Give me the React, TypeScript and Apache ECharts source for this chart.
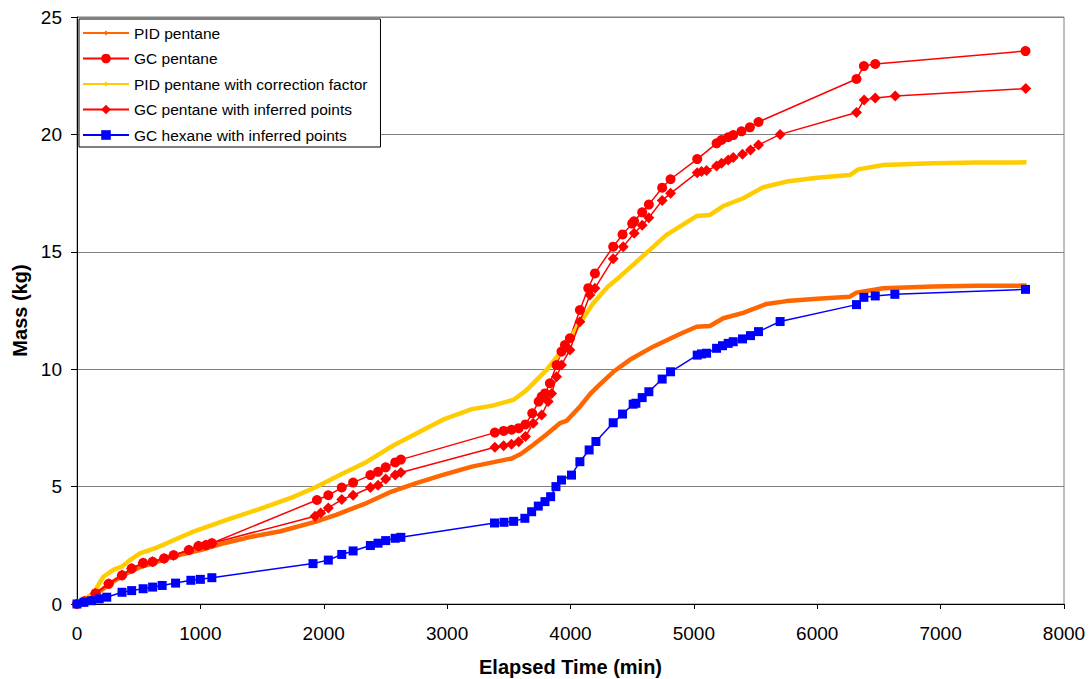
import React, { useEffect, useRef } from "react";
import * as echarts from "echarts";

const xTicks = { min: 0, max: 8000, interval: 1000 };
const yTicks = { min: 0, max: 25, interval: 5 };

const seriesNames = [
  "PID pentane",
  "GC pentane",
  "PID pentane with correction factor",
  "GC pentane with inferred points",
  "GC hexane with inferred points",
];

const pidPentane: [number, number][] = [
  [0, 0], [100, 0.25], [200, 0.6], [300, 0.98], [400, 1.3], [500, 1.55], [650, 1.8], [800, 2.05],
  [1000, 2.3], [1200, 2.6], [1400, 2.85], [1650, 3.1], [1929, 3.5], [2100, 3.8], [2347, 4.3],
  [2533, 4.75], [2750, 5.15], [2966, 5.5], [3200, 5.85], [3368, 6.03], [3523, 6.2], [3600, 6.4],
  [3678, 6.7], [3800, 7.2], [3914, 7.7], [3968, 7.8], [4076, 8.4], [4160, 8.95], [4238, 9.35],
  [4350, 9.9], [4481, 10.4], [4670, 10.96], [4887, 11.5], [5022, 11.81], [5130, 11.84],
  [5238, 12.17], [5400, 12.4], [5589, 12.78], [5751, 12.9], [6000, 13.0], [6264, 13.09],
  [6318, 13.26], [6534, 13.45], [6940, 13.52], [7300, 13.55], [7696, 13.56],
];

const gcPentane: [number, number][] = [
  [0, 0], [60, 0.12], [150, 0.45], [257, 0.86], [365, 1.22], [443, 1.51], [536, 1.75], [613, 1.8],
  [706, 1.94], [783, 2.08], [907, 2.3], [985, 2.47], [1046, 2.51], [1093, 2.59],
  [1945, 4.43], [2037, 4.63], [2146, 4.96], [2238, 5.17], [2378, 5.49], [2440, 5.63], [2502, 5.82],
  [2579, 6.03], [2625, 6.15],
  [3387, 7.3], [3458, 7.37], [3522, 7.42], [3580, 7.49], [3635, 7.65], [3690, 8.12], [3742, 8.62],
  [3766, 8.83], [3793, 8.97], [3833, 9.4], [3887, 10.18], [3927, 10.75], [3955, 11.03],
  [3995, 11.32], [4076, 12.52], [4144, 13.45], [4198, 14.08], [4346, 15.22], [4422, 15.74],
  [4500, 16.2], [4515, 16.3], [4581, 16.68], [4635, 17.01], [4743, 17.73], [4811, 18.09],
  [5027, 18.95], [5184, 19.62], [5224, 19.76], [5278, 19.88], [5319, 19.97], [5386, 20.13],
  [5454, 20.3], [5524, 20.53], [6318, 22.36], [6378, 22.91], [6470, 23.0], [7688, 23.55],
];

const pidCorrected: [number, number][] = [
  [0, 0], [132, 0.45], [213, 1.16], [294, 1.45], [362, 1.59], [430, 1.87], [510, 2.16], [646, 2.4],
  [754, 2.65], [943, 3.08], [1213, 3.58], [1483, 4.05], [1750, 4.55], [1929, 4.96], [2150, 5.55],
  [2347, 6.05], [2563, 6.75], [2766, 7.3], [2966, 7.85], [3200, 8.3], [3368, 8.45], [3539, 8.7],
  [3644, 9.11], [3806, 9.97], [3914, 10.68], [4022, 11.53], [4184, 12.81], [4300, 13.5],
  [4400, 13.94], [4643, 15.08], [4778, 15.72], [5022, 16.52], [5130, 16.57], [5238, 16.95],
  [5400, 17.28], [5562, 17.75], [5751, 17.99], [6000, 18.15], [6264, 18.27], [6332, 18.51],
  [6534, 18.7], [6940, 18.77], [7300, 18.8], [7696, 18.81],
];

const gcPentaneInferred: [number, number][] = [
  [0, 0], [60, 0.12], [150, 0.45], [257, 0.86], [365, 1.22], [443, 1.51], [536, 1.75], [613, 1.8],
  [706, 1.94], [783, 2.08], [907, 2.3], [985, 2.47], [1046, 2.51], [1093, 2.59],
  [1929, 3.74], [1975, 3.88], [2037, 4.09], [2146, 4.45], [2238, 4.63], [2378, 4.96], [2440, 5.06],
  [2502, 5.32], [2579, 5.49], [2625, 5.6],
  [3387, 6.68], [3458, 6.74], [3522, 6.8], [3580, 6.91], [3635, 7.13], [3698, 7.7], [3766, 8.05],
  [3819, 8.62], [3847, 8.97], [3887, 9.68], [3927, 10.18], [3995, 10.82], [4076, 12.02],
  [4157, 13.16], [4198, 13.45], [4346, 14.7], [4427, 15.22], [4516, 15.79], [4581, 16.13],
  [4635, 16.45], [4743, 17.19], [4811, 17.49], [5027, 18.37], [5062, 18.42], [5103, 18.46],
  [5184, 18.65], [5224, 18.77], [5278, 18.91], [5319, 19.02], [5394, 19.15], [5459, 19.34],
  [5524, 19.55], [5699, 20.0], [6318, 20.93], [6380, 21.47], [6470, 21.55], [6632, 21.64],
  [7690, 21.95],
];

const gcHexaneInferred: [number, number][] = [
  [0, 0], [56, 0.07], [118, 0.14], [180, 0.22], [241, 0.29], [365, 0.5], [443, 0.57], [536, 0.65],
  [613, 0.72], [690, 0.79], [799, 0.89], [923, 1.01], [1000, 1.05], [1093, 1.12],
  [1913, 1.72], [2037, 1.87], [2146, 2.11], [2238, 2.26], [2378, 2.49], [2440, 2.59], [2502, 2.7],
  [2579, 2.8], [2625, 2.84],
  [3384, 3.45], [3461, 3.48], [3539, 3.52], [3630, 3.65], [3685, 3.93], [3739, 4.17], [3793, 4.36],
  [3839, 4.57], [3882, 5.0], [3927, 5.28], [4008, 5.49], [4076, 6.06], [4151, 6.56], [4206, 6.92],
  [4346, 7.72], [4422, 8.09], [4508, 8.51], [4530, 8.55], [4581, 8.79], [4635, 9.04], [4743, 9.58],
  [4811, 9.89], [5027, 10.6], [5062, 10.65], [5103, 10.68], [5184, 10.89], [5232, 11.0],
  [5278, 11.1], [5319, 11.17], [5394, 11.29], [5459, 11.43], [5524, 11.6], [5699, 12.03],
  [6318, 12.75], [6378, 13.06], [6470, 13.12], [6629, 13.19], [7688, 13.4],
];

const FONT = "'Liberation Sans', Arial, sans-serif";

// legend icon: thin line with a tiny diamond (46 x 12 box)
const SMALL_MARK_ICON =
  "path://M0,0L0.01,0M46,12L45.99,12M0,5.1L46,5.1L46,6.9L0,6.9ZM23,3.6L25.4,6L23,8.4L20.6,6Z";

export default function App() {
  const ref = useRef<HTMLDivElement>(null);
  useEffect(() => {
    document.body.style.margin = "0";
    if (!ref.current) return;
    const chart = echarts.init(ref.current, undefined, { renderer: "svg" });
    const thinLegend = (color: string) => ({ lineStyle: { width: 2, color } });
    const smallIcon = (color: string) => ({
      icon: SMALL_MARK_ICON,
      itemStyle: { color, borderWidth: 0 },
    });
    chart.setOption({
      animation: false,
      backgroundColor: "#ffffff",
      textStyle: { fontFamily: FONT },
      grid: {
        left: 77,
        right: 28,
        top: 17,
        bottom: 75,
        outerBoundsMode: "none",
        containLabel: false,
        show: true,
        borderColor: "#808080",
        borderWidth: 1,
        backgroundColor: "transparent",
      },
      legend: {
        orient: "vertical",
        left: 79,
        top: 19,
        itemWidth: 46,
        itemHeight: 12,
        itemGap: 9.5,
        padding: [6, 13, 4, 3],
        backgroundColor: "#ffffff",
        borderColor: "#000000",
        borderWidth: 1,
        borderRadius: 0,
        textStyle: { fontSize: 15.5, color: "#000", fontFamily: FONT },
        data: [
          { name: seriesNames[0], ...smallIcon("#FF6600") },
          { name: seriesNames[1], ...thinLegend("#FF0000") },
          { name: seriesNames[2], ...smallIcon("#FFCC00") },
          { name: seriesNames[3], ...thinLegend("#FF0000") },
          { name: seriesNames[4], ...thinLegend("#0000FF") },
        ],
      },
      xAxis: {
        type: "value",
        min: xTicks.min,
        max: xTicks.max,
        interval: xTicks.interval,
        name: "Elapsed Time (min)",
        nameLocation: "middle",
        nameGap: 53,
        nameTextStyle: { fontSize: 20, fontWeight: "bold", color: "#000", fontFamily: FONT },
        axisLine: { show: true, lineStyle: { color: "#000", width: 1 } },
        axisTick: { show: true, length: 5, inside: false, lineStyle: { color: "#000" } },
        axisLabel: {
          fontSize: 19,
          color: "#000",
          margin: 20,
          fontFamily: FONT,
          formatter: (v: number) => String(v),
        },
        splitLine: { show: false },
      },
      yAxis: {
        type: "value",
        min: yTicks.min,
        max: yTicks.max,
        interval: yTicks.interval,
        name: "Mass (kg)",
        nameLocation: "middle",
        nameGap: 42,
        nameRotate: 90,
        nameTextStyle: { fontSize: 20, fontWeight: "bold", color: "#000", fontFamily: FONT },
        axisLine: { show: true, lineStyle: { color: "#000", width: 1 } },
        axisTick: { show: true, length: 6, inside: false, lineStyle: { color: "#000" } },
        axisLabel: { fontSize: 19, color: "#000", margin: 15, fontFamily: FONT },
        splitLine: { show: true, lineStyle: { color: "#808080", width: 1 } },
      },
      series: [
        {
          name: seriesNames[0],
          type: "line",
          data: pidPentane,
          symbol: "diamond",
          symbolSize: 5,
          showSymbol: false,
          itemStyle: { color: "#FF6600" },
          lineStyle: { color: "#FF6600", width: 4.5 },
        },
        {
          name: seriesNames[1],
          type: "line",
          data: gcPentane,
          symbol: "circle",
          symbolSize: 10,
          itemStyle: { color: "#FF0000" },
          lineStyle: { color: "#FF0000", width: 1.5 },
        },
        {
          name: seriesNames[2],
          type: "line",
          data: pidCorrected,
          symbol: "diamond",
          symbolSize: 5,
          showSymbol: false,
          itemStyle: { color: "#FFCC00" },
          lineStyle: { color: "#FFCC00", width: 4.5 },
        },
        {
          name: seriesNames[3],
          type: "line",
          data: gcPentaneInferred,
          symbol: "diamond",
          symbolSize: 11,
          itemStyle: { color: "#FF0000" },
          lineStyle: { color: "#FF0000", width: 1.5 },
        },
        {
          name: seriesNames[4],
          type: "line",
          data: gcHexaneInferred,
          symbol: "rect",
          symbolSize: 9,
          itemStyle: { color: "#0000FF" },
          lineStyle: { color: "#0000FF", width: 1.5 },
        },
      ],
    });
    return () => chart.dispose();
  }, []);
  return <div ref={ref} style={{ width: 1092, height: 679 }} />;
}
